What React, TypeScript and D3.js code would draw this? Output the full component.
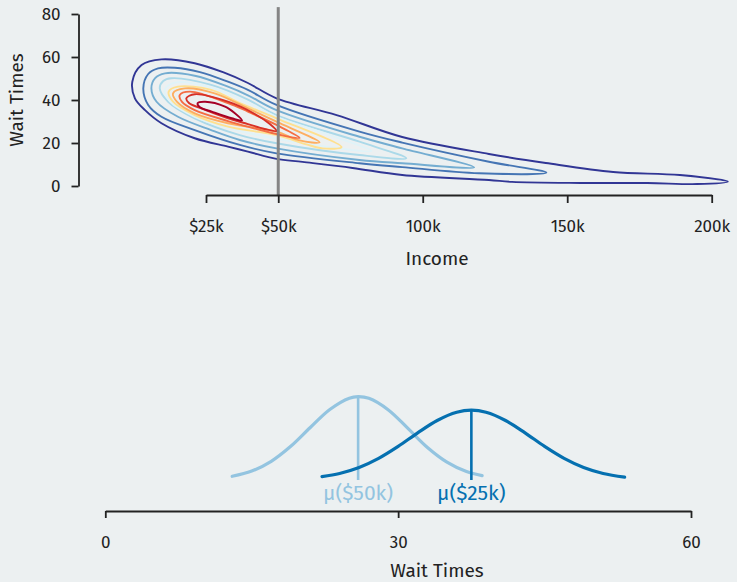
import { useRef, useEffect } from 'react'
import * as d3 from 'd3'

// top panel: income (k) vs wait time
const incomeTicks = [25, 50, 100, 150, 200]
const incomeTickLabels = ['$25k', '$50k', '100k', '150k', '200k']
const waitTicks = [0, 20, 40, 60, 80]
const refIncome = 50

// contour levels, outer to inner, points as [income k, wait]
const level1 = [[-0.5, 48.5], [2.7, 56.3], [9.6, 58.9], [21.1, 57.1], [31.1, 52.8], [39.5, 47.9], [49.4, 40.8], [70.2, 33.0], [92.9, 22.8], [122.9, 14.9], [142.6, 10.7], [165.9, 6.5], [189, 5.1], [205.6, 2.0], [195, 0.9], [177.7, 1.4], [154.5, 1.4], [130.9, 1.9], [122.9, 2.8], [92.9, 5.1], [75.7, 8.4], [58.4, 11.2], [49.4, 12.6], [39.5, 16.0], [32.6, 18.3], [21.1, 22.2], [9.6, 29.2], [3.9, 35.3], [0.4, 40.8]]
const level2 = [[3.3, 45.4], [5.0, 52.1], [8.4, 54.7], [14.2, 55.0], [22.9, 53.0], [32.6, 48.5], [39.5, 44.7], [49.4, 37.7], [78.1, 25.3], [92.9, 20.2], [122.9, 11.3], [142.8, 6.2], [119.5, 5.9], [92.9, 8.8], [78.1, 10.6], [49.4, 15.2], [36.7, 19.1], [21.1, 26.0], [9.6, 32.2], [5.0, 37.7]]
const level3 = [[6.1, 45.4], [7.4, 50.2], [10.8, 52.4], [21.1, 51.3], [32.6, 46.2], [39.5, 42.2], [49.4, 35.3], [78.1, 22.9], [92.9, 17.5], [117.8, 8.7], [92.9, 10.6], [78.1, 12.1], [49.4, 17.5], [36.7, 21.4], [26.8, 26.0], [15.3, 32.2], [7.9, 39.2]]
const level4 = [[9.0, 45.4], [10.2, 48.8], [13.0, 50.1], [26.8, 47.0], [39.5, 40.2], [49.4, 33.0], [78.1, 20.6], [94.3, 12.9], [78.1, 14.4], [49.4, 19.9], [36.7, 23.7], [21.1, 31.5], [11.9, 39.2]]
const level5 = [[10.7, 44.7], [14.3, 48.1], [26.8, 45.8], [39.5, 38.8], [49.4, 32.2], [67.8, 23.7], [82.2, 16.3], [67.8, 18.1], [49.4, 21.9], [32.6, 27.0], [21.1, 32.2], [12.6, 39.2]]
const level6 = [[12.1, 43.9], [15.3, 46.2], [26.8, 44.7], [36.7, 38.5], [49.4, 31.5], [71.9, 18.1], [65.3, 17.5], [59.7, 19.4], [49.4, 23.7], [32.6, 27.6], [21.1, 33.0], [13.6, 39.2]]
const level7 = [[13.6, 43.1], [17.7, 45.4], [28.0, 43.1], [39.5, 36.1], [49.4, 29.9], [64.3, 20.3], [57.4, 21.2], [49.4, 25.3], [32.6, 29.2], [21.1, 33.8], [15.0, 39.1]]
const level8 = [[15.9, 42.3], [19.4, 43.9], [32.6, 38.6], [39.5, 34.6], [49.4, 28.4], [57.4, 22.4], [52.2, 23.3], [39.5, 27.6], [32.6, 30.2], [21.1, 35.3], [16.7, 39.1]]
const level9 = [[18.2, 40.8], [21.1, 42.7], [32.6, 39.2], [41.9, 33.5], [47.1, 28.8], [49.4, 25.6], [45.3, 26.5], [39.5, 28.8], [32.6, 31.5], [22.9, 36.3], [19.1, 38.6]]
const level10 = [[22.1, 38.5], [24.7, 39.2], [31.6, 36.9], [35.0, 33.8], [37.5, 30.4], [33.9, 31.5], [27.0, 34.6], [22.9, 36.6]]
const levels = [level1, level2, level3, level4, level5, level6, level7, level8, level9, level10]
const levelColors = ['#313695', '#4575b4', '#74add1', '#abd9e9', '#e0f3f8', '#fee090', '#fdae61', '#f46d43', '#d73027', '#a50026']

// bottom panel: wait time densities, points as [wait, density]
const waitAxisTicks = [0, 30, 60]
const density50k = [[13, 0.0034], [15, 0.0082], [17, 0.0172], [19, 0.031], [21, 0.0483], [23, 0.0649], [25, 0.0753], [25.9, 0.0767], [27, 0.0752], [29, 0.0645], [31, 0.0475], [33, 0.03], [35, 0.0165], [37, 0.0078], [38.6, 0.004]]
const density25k = [[22.2, 0.0031], [24, 0.006], [26, 0.0115], [28, 0.0199], [30, 0.0309], [32, 0.0434], [34, 0.0548], [36, 0.0624], [37.5, 0.0643], [39, 0.0624], [41, 0.0548], [43, 0.0434], [45, 0.0309], [47, 0.0199], [49, 0.0115], [51, 0.006], [53.2, 0.0026]]
const curveMeans = [25.9, 37.5]
const curvePeaks = [0.0767, 0.0643]
const curveLabels = ['μ($50k)', 'μ($25k)']
const curveColors = ['#93c4e0', '#0570b0']

const font = "'Fira Sans', 'Open Sans', sans-serif"
const ink = '#222'

export default function App() {
  const svgRef = useRef<SVGSVGElement>(null)

  useEffect(() => {
    const w = 737
    const h = 582
    const svg = d3.select(svgRef.current)
    svg.selectAll('*').remove()
    svg.attr('width', w).attr('height', h)
    svg.append('rect').attr('width', w).attr('height', h).attr('fill', '#ecf0f1')

    //top scales
    const x = d3.scaleLinear().domain([25, 200]).range([206, 711.7])
    const y = d3.scaleLinear().domain([0, 80]).range([186, 14])
    const xAxisY = 195

    const contourLine = d3.line<number[]>()
      .x(d => x(d[0]))
      .y(d => y(d[1]))
      .curve(d3.curveCatmullRomClosed.alpha(0.5))

    svg.append('g')
      .selectAll('path')
      .data(levels)
      .join('path')
        .attr('d', d => contourLine(d))
        .attr('fill', 'none')
        .attr('stroke', (d, i) => levelColors[i])
        .attr('stroke-width', 1.9)

    svg.append('line')
      .attr('x1', x(refIncome)).attr('x2', x(refIncome))
      .attr('y1', y(83.2)).attr('y2', xAxisY)
      .attr('stroke', '#858585')
      .attr('stroke-width', 3)

    const styleAxis = (g: any) => {
      g.attr('font-family', font).attr('font-size', 17).attr('color', ink)
      g.selectAll('.domain, .tick line').attr('stroke-width', 1.8)
    }

    const xAxis = d3.axisBottom(x)
      .tickValues(incomeTicks)
      .tickFormat((d, i) => incomeTickLabels[i])
      .tickSize(8)
      .tickPadding(17)
      .tickSizeOuter(0)
    svg.append('g')
      .attr('transform', `translate(0, ${xAxisY})`)
      .call(xAxis)
      .call(styleAxis)

    const yAxis = d3.axisLeft(y)
      .tickValues(waitTicks)
      .tickSize(7)
      .tickPadding(11)
      .tickSizeOuter(0)
    svg.append('g')
      .attr('transform', 'translate(78.5, 0)')
      .call(yAxis)
      .call(styleAxis)

    svg.append('text')
      .attr('x', 437).attr('y', 265)
      .attr('text-anchor', 'middle')
      .attr('font-family', font).attr('font-size', 19).attr('fill', ink)
      .text('Income')

    svg.append('text')
      .attr('transform', 'translate(23, 100) rotate(-90)')
      .attr('text-anchor', 'middle')
      .attr('font-family', font).attr('font-size', 19).attr('fill', ink)
      .text('Wait Times')

    //bottom scales
    const wx = d3.scaleLinear().domain([0, 60]).range([105.3, 691])
    const dy = d3.scaleLinear().domain([0, 0.08]).range([480, 393.1])
    const bottomAxisY = 511

    const densityLine = d3.line<number[]>()
      .x(d => wx(d[0]))
      .y(d => dy(d[1]))
      .curve(d3.curveCatmullRom)

    ;[density50k, density25k].forEach((series, i) => {
      svg.append('path')
        .attr('d', densityLine(series))
        .attr('fill', 'none')
        .attr('stroke', curveColors[i])
        .attr('stroke-width', 3.2)
        .attr('stroke-linecap', 'round')
      svg.append('line')
        .attr('x1', wx(curveMeans[i])).attr('x2', wx(curveMeans[i]))
        .attr('y1', dy(0)).attr('y2', dy(curvePeaks[i]))
        .attr('stroke', curveColors[i])
        .attr('stroke-width', 2.6)
      svg.append('text')
        .attr('x', wx(curveMeans[i])).attr('y', 500)
        .attr('text-anchor', 'middle')
        .attr('font-family', font).attr('font-size', 21)
        .attr('fill', curveColors[i])
        .text(curveLabels[i])
    })

    const waitAxis = d3.axisBottom(wx)
      .tickValues(waitAxisTicks)
      .tickSize(7)
      .tickPadding(18)
      .tickSizeOuter(0)
    svg.append('g')
      .attr('transform', `translate(0, ${bottomAxisY})`)
      .call(waitAxis)
      .call(styleAxis)

    svg.append('text')
      .attr('x', 437).attr('y', 577)
      .attr('text-anchor', 'middle')
      .attr('font-family', font).attr('font-size', 19).attr('fill', ink)
      .text('Wait Times')
  }, [])

  return (
    <svg ref={svgRef} style={{ position: 'absolute', left: 0, top: 0, display: 'block' }}></svg>
  )
}
